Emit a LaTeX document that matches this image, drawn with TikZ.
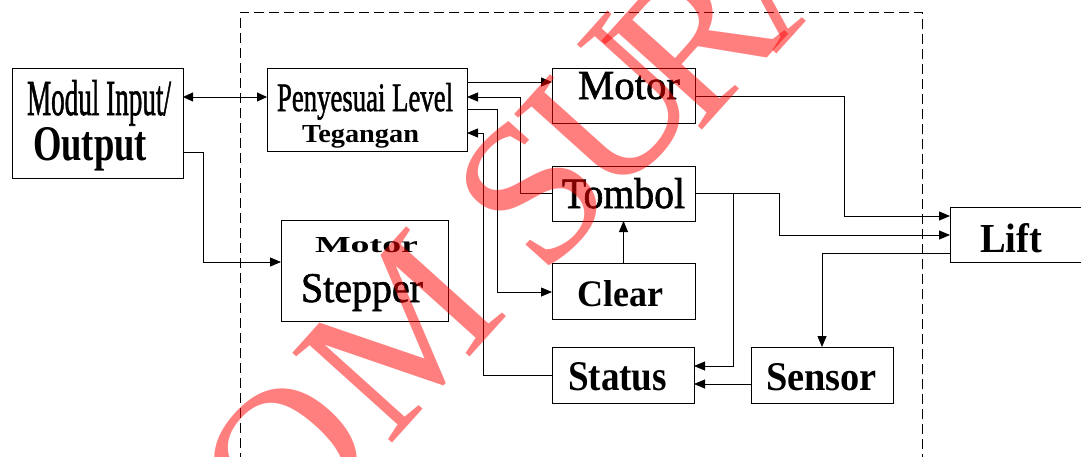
\documentclass[tikz,border=0pt]{standalone}
\usepackage{fontspec}
\setmainfont{Liberation Serif}
\newfontfamily\heavyrm{Liberation Serif}[FakeBold=1.5]
\usetikzlibrary{arrows.meta,calc}
\begin{document}
\begin{tikzpicture}[x=1pt,y=-1pt]
\tikzset{
 blk/.style={draw=black, line width=0.9pt, inner sep=0pt, outer sep=0pt, anchor=center},
 lbl/.style={anchor=base west, inner sep=0pt, outer sep=0pt},
 conn/.style={line width=0.8pt},
 arr/.style={conn, -{Triangle[length=11pt,width=9pt]}},
 darr/.style={conn, {Triangle[length=10pt,width=9pt]}-{Triangle[length=10pt,width=9pt]}},
 wm/.style={text=red, text opacity=0.5, inner sep=0pt, outer sep=0pt, rotate=48, font=\fontsize{205}{205}\selectfont},
}
\clip (0,0) rectangle (1081,456);
\fill[white] (0,0) rectangle (1081,456);
% system boundary
\node[draw, dash pattern=on 10pt off 5pt, line width=0.8pt, minimum width=682pt, minimum height=460pt, anchor=north west, inner sep=0pt] (sys) at (240,12) {};
% blocks
\node[blk, minimum width=171pt, minimum height=110pt] (mio) at (97.5,123) {};
\node[blk, minimum width=200pt, minimum height=83pt] (pl) at (367,109.5) {};
\node[blk, minimum width=167pt, minimum height=101pt] (ms) at (364.5,270.5) {};
\node[blk, minimum width=143pt, minimum height=55pt] (mot) at (623.5,95.5) {};
\node[blk, minimum width=143pt, minimum height=55pt] (tom) at (623.5,193.5) {};
\node[blk, minimum width=143pt, minimum height=56pt] (clr) at (623.5,291) {};
\node[blk, minimum width=142pt, minimum height=56pt] (sta) at (623,375) {};
\node[blk, minimum width=142pt, minimum height=56pt] (sen) at (822,375) {};
\node[blk, minimum width=140pt, minimum height=55pt] (lift) at (1020,234.5) {};
% labels
\node[lbl] (mio-a) at (27,115) {\resizebox{144pt}{35pt}{\heavyrm Modul Input/}};
\node[lbl] (mio-b) at (33,160) {\resizebox{114pt}{33pt}{\bfseries Output}};
\node[lbl] (pl-a) at (277,111) {\resizebox{176pt}{28pt}{\heavyrm Penyesuai Level}};
\node[lbl] (pl-b) at (302,142) {\resizebox{117pt}{17pt}{\bfseries Tegangan}};
\node[lbl] (ms-a) at (315,252) {\resizebox{103pt}{15pt}{\bfseries Motor}};
\node[lbl] (ms-b) at (301,302) {\resizebox{122pt}{28pt}{\heavyrm Stepper}};
\node[lbl] (mot-t) at (578,99) {\resizebox{102pt}{27pt}{\heavyrm Motor}};
\node[lbl] (tom-t) at (562,208) {\resizebox{123pt}{30pt}{\heavyrm Tombol}};
\node[lbl] (clr-t) at (577,306) {\resizebox{86pt}{26pt}{\bfseries Clear}};
\node[lbl] (sta-t) at (568,390) {\resizebox{99pt}{28pt}{\bfseries Status}};
\node[lbl] (sen-t) at (766,390) {\resizebox{111pt}{27pt}{\bfseries Sensor}};
\node[lbl] (lift-t) at (980,252) {\resizebox{62pt}{29pt}{\bfseries Lift}};
% connectors
\draw[darr] ($(mio.north east)+(0,29)$) -- ($(pl.north west)+(0,29)$);
\draw[arr] ($(mio.north east)+(0,84)$) -- ++(20,0) |- ($(ms.north west)+(0,42)$);
\draw[arr] ($(pl.north east)+(0,14)$) -- ($(mot.north west)+(0,14)$);
\draw[arr] ($(tom.north west)+(0,27)$) -- ++(-32,0) |- ($(pl.north east)+(0,29)$);
\draw[arr] ($(pl.north east)+(0,41)$) -- ++(30,0) |- ($(clr.north west)+(0,29)$);
\draw[arr] ($(sta.north west)+(0,28)$) -- ++(-69,0) |- ($(pl.north east)+(0,65)$);
\draw[arr] (clr.north) -- (tom.south);
\draw[arr] ($(mot.north east)+(0,28)$) -- ++(149,0) |- ($(lift.north west)+(0,9)$);
\draw[arr] ($(tom.north east)+(0,27)$) -- ++(84,0) |- ($(lift.north west)+(0,28)$);
\draw[arr] ($(tom.north east)+(38,27)$) |- ($(sta.north east)+(0,19)$);
\draw[arr] ($(lift.north west)+(0,46)$) -| (sen.north);
\draw[arr] ($(sen.north west)+(0,37)$) -- ($(sta.north east)+(0,37)$);
% watermark
\node[wm] (wO) at (286,460) {O};
\node[wm] (wM) at (400,335) {M};
\node[wm] (wS) at (532,192) {S};
\node[wm] (wU) at (612,108) {U};
\node[wm] (wR) at (693,40) {R};
\node[wm] (wA) at (775,-45) {A};
\end{tikzpicture}
\end{document}
